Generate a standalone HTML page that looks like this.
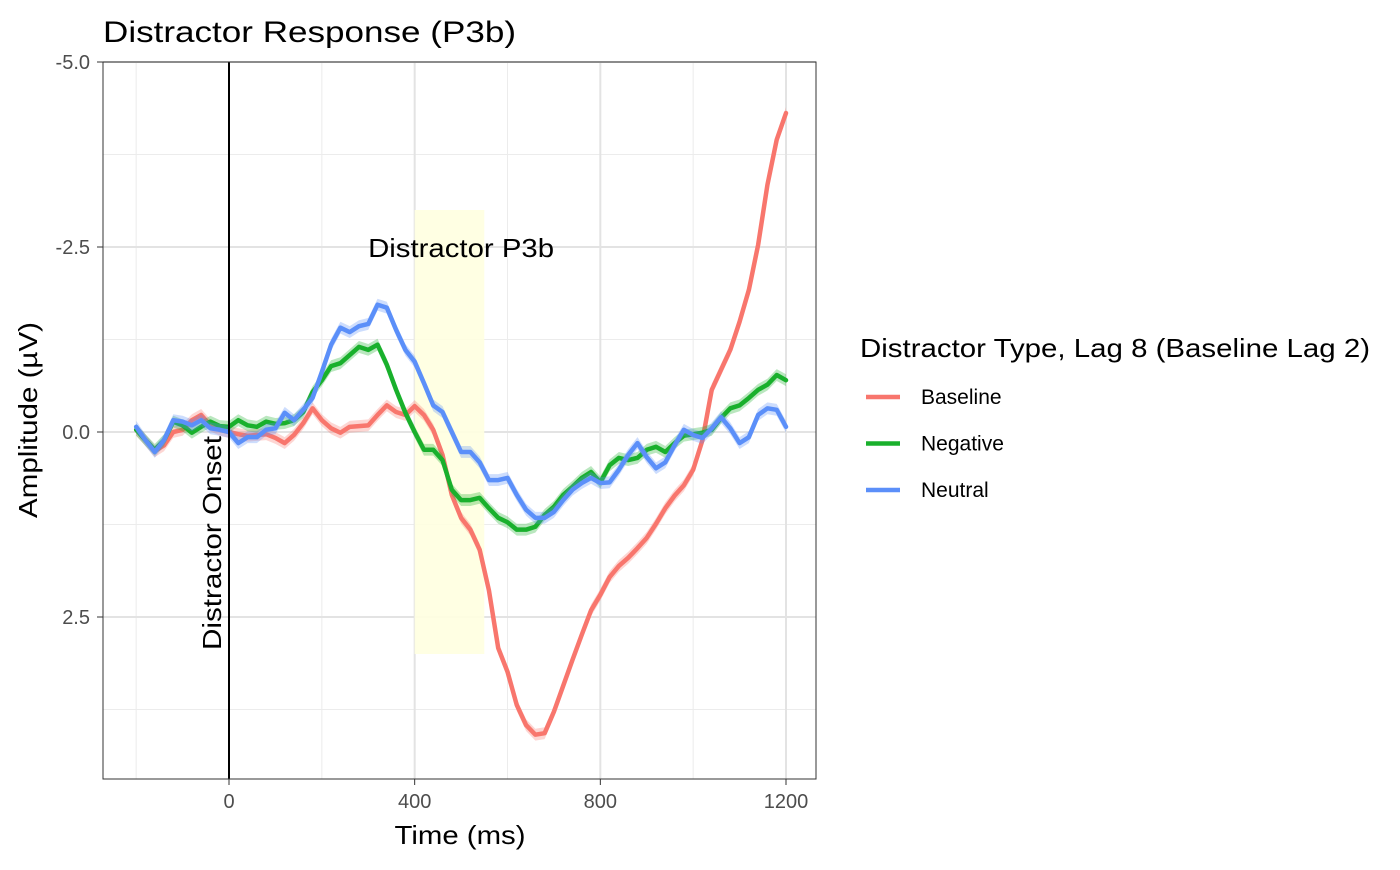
<!DOCTYPE html>
<html><head><meta charset="utf-8"><style>
body{margin:0;background:#fff;font-family:"Liberation Sans",sans-serif;}
</style></head><body>
<svg id="chart" width="1400" height="865" xmlns="http://www.w3.org/2000/svg" font-family="Liberation Sans, sans-serif">
<text x="103" y="42" font-size="30" fill="#000" textLength="413" lengthAdjust="spacingAndGlyphs">Distractor Response (P3b)</text>
<g id="grid"></g>
<rect id="p3b" fill="#ffffe0" opacity="0.9"></rect>
<g id="series"></g>
<line id="onset" stroke="#000" stroke-width="2"></line>
<text id="p3blabel" font-size="26" text-anchor="middle" textLength="186" lengthAdjust="spacingAndGlyphs">Distractor P3b</text>
<text id="onsetlabel" font-size="26" text-anchor="middle" textLength="214" lengthAdjust="spacingAndGlyphs">Distractor Onset</text>
<rect x="103" y="62" width="713" height="717" fill="none" stroke="#333" stroke-width="1"></rect>
<g id="axes"></g>
<text x="460" y="844" font-size="26" text-anchor="middle" textLength="131" lengthAdjust="spacingAndGlyphs">Time (ms)</text>
<text transform="translate(37,420) rotate(-90)" font-size="26" text-anchor="middle" textLength="196" lengthAdjust="spacingAndGlyphs">Amplitude (µV)</text>
<g>
<text x="860" y="357" font-size="26" textLength="510" lengthAdjust="spacingAndGlyphs">Distractor Type, Lag 8 (Baseline Lag 2)</text>
<g id="legend"></g>
</g>
</svg>
<script>
const times = [];
for (let t = -200; t <= 1200; t += 20) times.push(t);
const baseline = [-0.03,0.11,0.26,0.18,0,-0.03,-0.16,-0.23,-0.09,-0.03,0,0.03,0.05,0.04,0.03,0.08,0.15,0.04,-0.12,-0.32,-0.16,-0.05,0.01,-0.07,-0.08,-0.09,-0.23,-0.36,-0.27,-0.23,-0.35,-0.23,-0.03,0.31,0.85,1.16,1.32,1.59,2.14,2.92,3.24,3.69,3.96,4.09,4.07,3.78,3.43,3.08,2.74,2.41,2.20,1.96,1.81,1.70,1.57,1.43,1.24,1.03,0.86,0.72,0.51,0.11,-0.57,-0.84,-1.11,-1.49,-1.92,-2.53,-3.34,-3.95,-4.31];
const negative = [-0.03,0.11,0.24,0.11,-0.14,-0.09,0.01,-0.07,-0.14,-0.08,-0.07,-0.16,-0.09,-0.07,-0.14,-0.11,-0.12,-0.16,-0.27,-0.54,-0.70,-0.89,-0.93,-1.04,-1.15,-1.11,-1.18,-0.91,-0.57,-0.26,0,0.24,0.24,0.38,0.78,0.92,0.92,0.89,1.03,1.16,1.22,1.32,1.32,1.28,1.12,1.01,0.85,0.74,0.62,0.54,0.68,0.45,0.35,0.38,0.35,0.24,0.20,0.27,0.15,0.05,0.03,0.01,-0.03,-0.19,-0.32,-0.36,-0.46,-0.57,-0.64,-0.77,-0.70];
const neutral = [-0.07,0.11,0.27,0.11,-0.16,-0.14,-0.09,-0.16,-0.05,-0.03,0,0.15,0.07,0.07,-0.03,-0.05,-0.26,-0.16,-0.30,-0.46,-0.81,-1.18,-1.41,-1.35,-1.43,-1.46,-1.72,-1.68,-1.38,-1.11,-0.95,-0.66,-0.36,-0.27,0,0.27,0.27,0.41,0.65,0.65,0.62,0.85,1.05,1.16,1.16,1.08,0.92,0.78,0.69,0.62,0.69,0.68,0.51,0.31,0.15,0.34,0.49,0.41,0.18,-0.03,0.04,0.08,-0.05,-0.20,-0.05,0.15,0.07,-0.23,-0.32,-0.30,-0.07];
const seriesNames = ["Baseline","Negative","Neutral"];
const seriesColors = ["#F8766D","#19B02C","#5B8FF9"];
const xTicks = [0,400,800,1200];
const xMinor = [-200,200,600,1000];
const yTicks = [-5.0,-2.5,0.0,2.5];
const yTickLabels = ["-5.0","-2.5","0.0","2.5"];
const yMinor = [-3.75,-1.25,1.25,3.75];
const window_ms = [400,550];
const window_uv = [-3,3];

const NS="http://www.w3.org/2000/svg";
const X = t => 229 + (t)*(557/1200);
const Y = v => 432 + v*74;
function mk(tag, attrs, parent){const e=document.createElementNS(NS,tag);for(const k in attrs)e.setAttribute(k,attrs[k]);parent.appendChild(e);return e;}
const grid=document.getElementById('grid'), axes=document.getElementById('axes');
xMinor.forEach(t=>{const l=mk('line',{x1:X(t),x2:X(t),y1:62,y2:779,stroke:'#ececec','stroke-width':1},grid);

});
yMinor.forEach(v=>{const l=mk('line',{x1:103,x2:816,y1:Y(v),y2:Y(v),stroke:'#ececec','stroke-width':1},grid);

});
xTicks.forEach(t=>{const l=mk('line',{x1:X(t),x2:X(t),y1:62,y2:779,stroke:'#e3e3e3','stroke-width':2},grid);


const tk=mk('line',{x1:X(t),x2:X(t),y1:779,y2:785,stroke:'#333'},axes);


const tx=mk('text',{x:X(t),y:808,'font-size':20,fill:'#4d4d4d','text-anchor':'middle'},axes);tx.textContent=t;

});
yTicks.forEach((v,i)=>{const l=mk('line',{x1:103,x2:816,y1:Y(v),y2:Y(v),stroke:'#e3e3e3','stroke-width':2},grid);


const tk=mk('line',{x1:97,x2:103,y1:Y(v),y2:Y(v),stroke:'#333'},axes);


const tx=mk('text',{x:90,y:Y(v)+7,'font-size':20,fill:'#4d4d4d','text-anchor':'end'},axes);tx.textContent=yTickLabels[i];

});
const p3b=document.getElementById('p3b');
p3b.setAttribute('x',X(window_ms[0]));p3b.setAttribute('width',X(window_ms[1])-X(window_ms[0]));
p3b.setAttribute('y',Y(window_uv[0]));p3b.setAttribute('height',Y(window_uv[1])-Y(window_uv[0]));
const on=document.getElementById('onset');
on.setAttribute('x1',X(0));on.setAttribute('x2',X(0));on.setAttribute('y1',62);on.setAttribute('y2',779);
const pl=document.getElementById('p3blabel');pl.setAttribute('x',X(500));pl.setAttribute('y',Y(-2.5)+10);
const ol=document.getElementById('onsetlabel');ol.setAttribute('transform',`translate(${X(0)-8},${Y(1.5)}) rotate(-90)`);
const sg=document.getElementById('series');
[baseline,negative,neutral].forEach((vals,si)=>{
  const up=vals.map((v,i)=>X(times[i])+','+Y(v-0.08)).join(' ');
  const dn=vals.map((v,i)=>X(times[i])+','+Y(v+0.08)).reverse().join(' ');
  const rb=mk('polygon',{points:up+' '+dn,fill:seriesColors[si],opacity:0.3},sg);
  
  
  const ln=mk('polyline',{points:vals.map((v,i)=>X(times[i])+','+Y(v)).join(' '),fill:'none',stroke:seriesColors[si],'stroke-width':4.5,'stroke-linejoin':'round','stroke-linecap':'round'},sg);
  
  
});
const lg=document.getElementById('legend');
seriesNames.forEach((n,i)=>{const y=397+i*46.5;
  const l=mk('line',{x1:866,x2:900,y1:y,y2:y,stroke:seriesColors[i],'stroke-width':4.5},lg);
  
  
  const t=mk('text',{x:921,y:y+7,'font-size':21},lg);t.textContent=n;
  
  });
</script>
</body></html>
